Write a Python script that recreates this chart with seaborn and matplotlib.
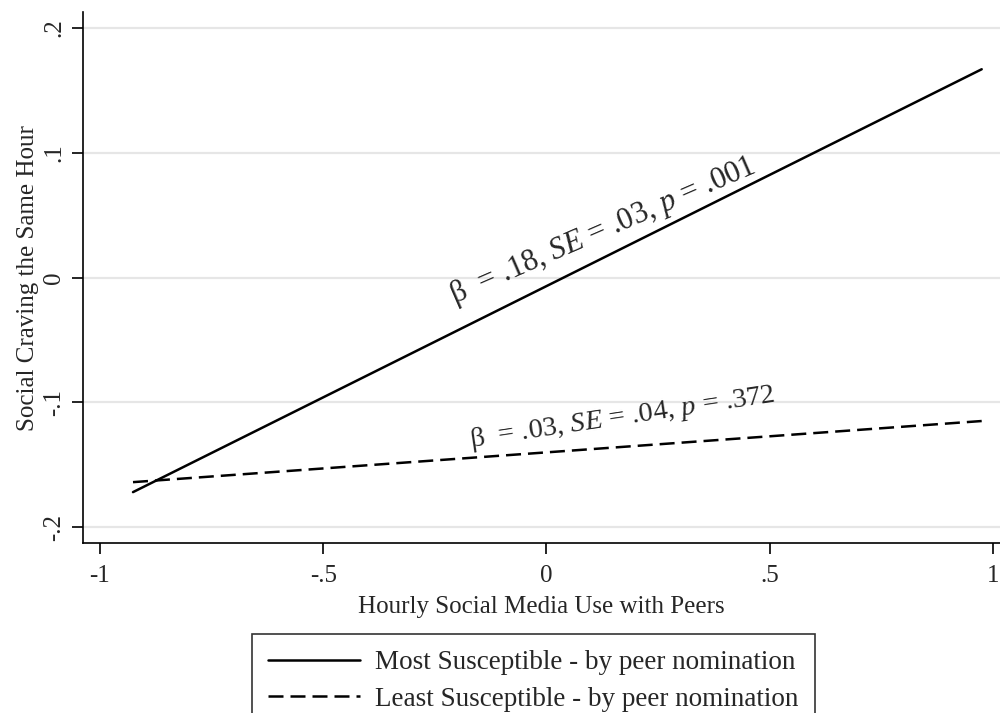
import matplotlib
matplotlib.use("Agg")
import matplotlib.pyplot as plt
from matplotlib.lines import Line2D
import seaborn as sns
import pandas as pd

# Datos
x_vals = [-0.926, 0.975]
most_y = [-0.172, 0.167]
least_y = [-0.164, -0.115]
series = ["Most Susceptible - by peer nomination", "Least Susceptible - by peer nomination"]
x_ticks = [-1, -0.5, 0, 0.5, 1]
x_labels = ["-1", "-.5", "0", ".5", "1"]
y_ticks = [-0.2, -0.1, 0, 0.1, 0.2]
y_labels = ["-.2", "-.1", "0", ".1", ".2"]
texto_most = r"β  = .18, $SE$ = .03, $p$ = .001"
texto_least = r"β  = .03, $SE$ = .04, $p$ = .372"

df = pd.DataFrame({
    "x": x_vals * 2,
    "y": most_y + least_y,
    "grupo": [series[0]] * 2 + [series[1]] * 2,
})

sns.set_style("white")
plt.rcParams["font.family"] = ["Liberation Serif", "DejaVu Serif"]
plt.rcParams["mathtext.fontset"] = "custom"
plt.rcParams["mathtext.rm"] = "Liberation Serif"
plt.rcParams["mathtext.it"] = "Liberation Serif:italic"

fig = plt.figure(figsize=(10, 7.13), dpi=100)
ax = fig.add_axes([0.083, 0.2384, 0.917, 0.7446])

sns.lineplot(data=df, x="x", y="y", style="grupo", hue="grupo",
             palette=["black", "black"], dashes=[(None, None), (6, 2.8)],
             linewidth=1.8, ax=ax, legend=False)

ax.set_xlim(-1.038, 1.016)
ax.set_ylim(-0.2128, 0.2128)
ax.set_xticks(x_ticks)
ax.set_xticklabels(x_labels)
ax.set_yticks(y_ticks)
ax.set_yticklabels(y_labels, rotation=90, va="center")
ax.tick_params(axis="both", direction="out", length=8, width=1.2, labelsize=18,
               color="black", left=True, bottom=True)
ax.tick_params(axis="y", pad=5)
ax.tick_params(axis="x", pad=8)
ax.grid(axis="y", color="#e6e6e6", linewidth=1.6)
ax.grid(axis="x", visible=False)
ax.set_axisbelow(True)
for s in ["top", "right"]:
    ax.spines[s].set_visible(False)
for s in ["left", "bottom"]:
    ax.spines[s].set_color("black")
    ax.spines[s].set_linewidth(1.2)

ax.set_xlabel("Hourly Social Media Use with Peers", fontsize=18, labelpad=6)
ax.set_ylabel("Social Craving the Same Hour", fontsize=18, labelpad=3)

ax.text(-0.205, -0.021, texto_most, fontsize=22, rotation=23.5,
        rotation_mode="anchor", ha="left", va="baseline")
ax.text(-0.17, -0.136, texto_least, fontsize=20.5, rotation=8.5,
        rotation_mode="anchor", ha="left", va="baseline")

handles = [Line2D([], [], color="black", lw=1.8),
           Line2D([], [], color="black", lw=1.8, dashes=(6, 2.8))]
leg = fig.legend(handles, series, loc="upper left",
                 bbox_to_anchor=(0.252, 1 - 634 / 713), fontsize=19.5,
                 frameon=True, fancybox=False, edgecolor="black",
                 handlelength=3.4, handletextpad=0.55, borderpad=0.6,
                 labelspacing=0.42, borderaxespad=0)
leg.get_frame().set_linewidth(1.2)

fig.savefig("out.png", dpi=100)
